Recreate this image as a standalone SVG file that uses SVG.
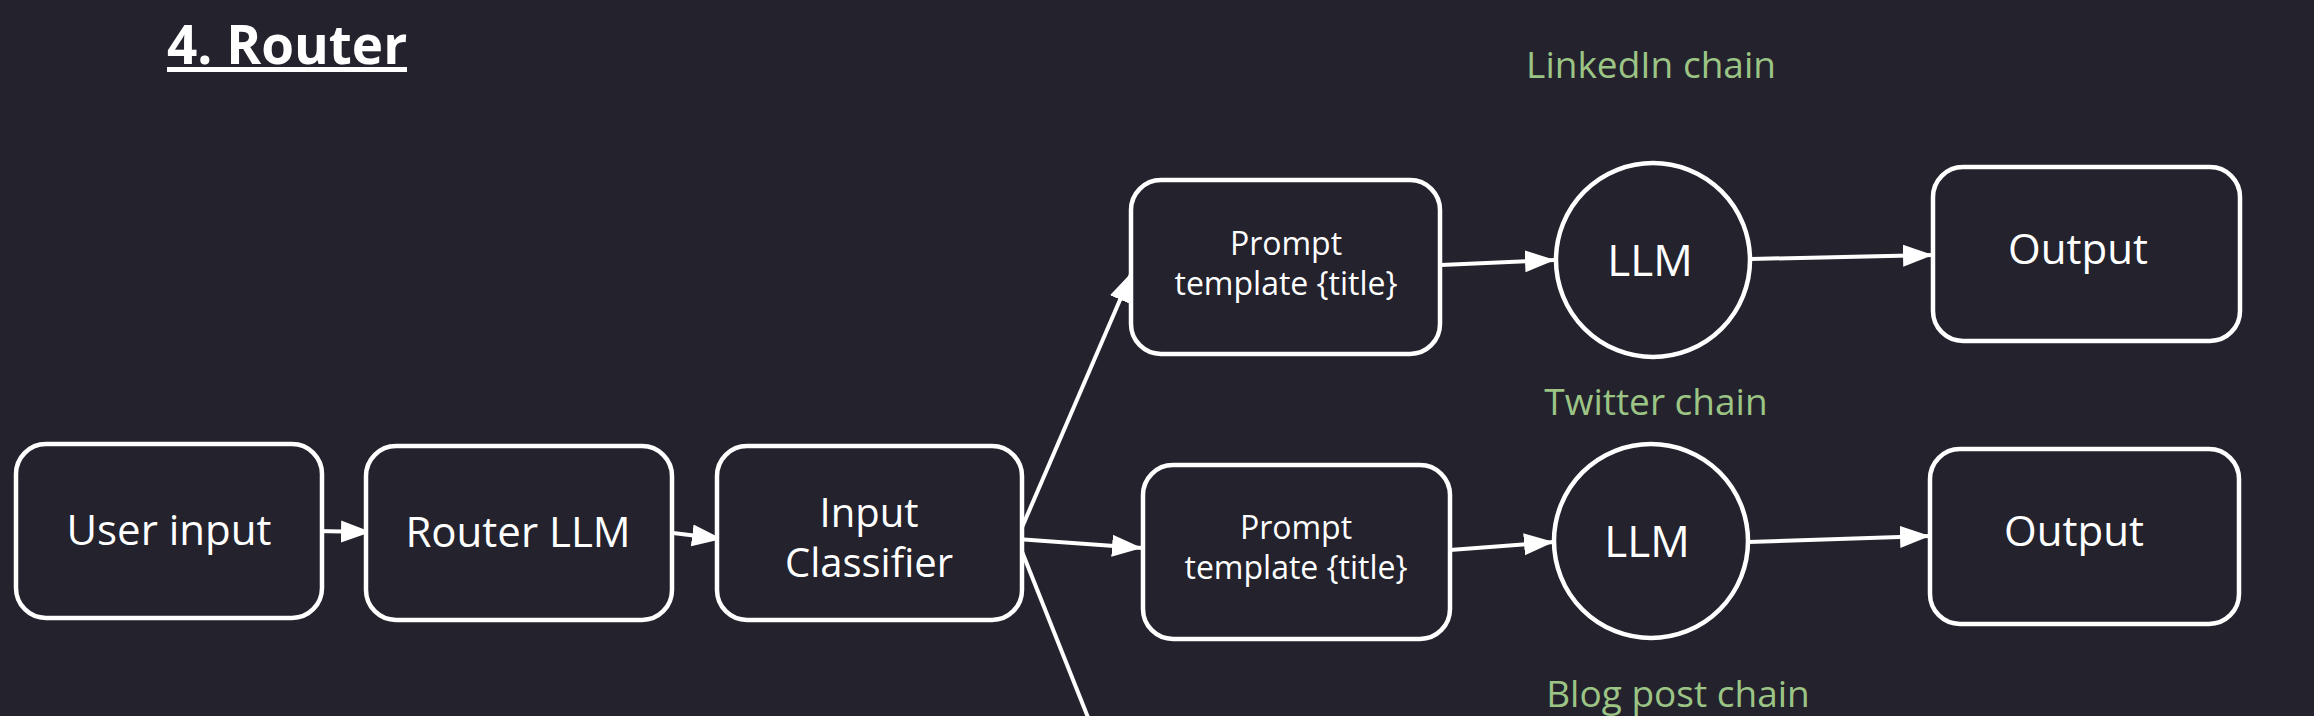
<svg xmlns="http://www.w3.org/2000/svg" width="2314" height="716" viewBox="0 0 2314 716">
  <defs>
    <marker id="arrow" markerUnits="userSpaceOnUse" markerWidth="32" markerHeight="24" refX="30" refY="12" orient="auto">
      <path d="M0,1 L30,12 L0,23 Z" fill="#ffffff"/>
    </marker>
    <style>
      .node { fill: #23222d; stroke: #ffffff; stroke-width: 4.5; }
      .lbl { font-family: "Open Sans", "Liberation Sans", sans-serif; fill: #ffffff; text-anchor: middle; }
      .big { font-size: 42px; }
      .two { font-size: 40px; }
      .llm { font-size: 44px; }
      .small { font-size: 32px; }
      .chain { font-family: "Open Sans", "Liberation Sans", sans-serif; font-size: 37px; fill: #9cc585; text-anchor: middle; }
      .edge { stroke: #ffffff; stroke-width: 4; fill: none; }
    </style>
  </defs>
  <rect x="0" y="0" width="2314" height="716" fill="#23222d"/>

  <g id="title">
    <text x="167" y="64" font-family="Open Sans, Liberation Sans, sans-serif" font-weight="bold" font-size="53" fill="#ffffff">4. Router</text>
    <rect x="167" y="67" width="240" height="5" fill="#ffffff"/>
  </g>

  <g id="chain-labels">
    <text class="chain" x="1651" y="78">LinkedIn chain</text>
    <text class="chain" x="1656" y="415">Twitter chain</text>
    <text class="chain" x="1678" y="707">Blog post chain</text>
  </g>

  <g id="connectors">
    <line class="edge" x1="315" y1="531" x2="371" y2="532" marker-end="url(#arrow)"/>
    <line class="edge" x1="665" y1="532" x2="722" y2="539" marker-end="url(#arrow)"/>
    <line class="edge" x1="1017" y1="539" x2="1132" y2="272" marker-end="url(#arrow)"/>
    <line class="edge" x1="1017" y1="539" x2="1142" y2="548" marker-end="url(#arrow)"/>
    <line class="edge" x1="1017" y1="539" x2="1093" y2="730"/>
    <line class="edge" x1="1441" y1="265" x2="1555" y2="260" marker-end="url(#arrow)"/>
    <line class="edge" x1="1751" y1="259" x2="1933" y2="255" marker-end="url(#arrow)"/>
    <line class="edge" x1="1450" y1="550" x2="1554" y2="542" marker-end="url(#arrow)"/>
    <line class="edge" x1="1748" y1="542" x2="1930" y2="536" marker-end="url(#arrow)"/>
  </g>

  <g id="user-input">
    <rect class="node" x="16" y="444" width="306" height="174" rx="30"/>
    <text class="lbl big" x="169" y="545">User input</text>
  </g>
  <g id="router-llm">
    <rect class="node" x="366" y="446" width="306" height="174" rx="30"/>
    <text class="lbl big" x="518" y="547">Router LLM</text>
  </g>
  <g id="input-classifier">
    <rect class="node" x="717" y="446" width="305" height="174" rx="30"/>
    <text class="lbl two" x="869" y="527">Input</text>
    <text class="lbl two" x="869" y="577">Classifier</text>
  </g>

  <g id="prompt-linkedin">
    <rect class="node" x="1131" y="180" width="309" height="174" rx="30"/>
    <text class="lbl small" x="1286" y="255">Prompt</text>
    <text class="lbl small" x="1286" y="295">template {title}</text>
  </g>
  <g id="llm-linkedin">
    <circle class="node" cx="1653" cy="260" r="97"/>
    <text class="lbl llm" x="1650" y="276">LLM</text>
  </g>
  <g id="output-linkedin">
    <rect class="node" x="1933" y="167" width="307" height="174" rx="30"/>
    <text class="lbl big" x="2078" y="264">Output</text>
  </g>

  <g id="prompt-twitter">
    <rect class="node" x="1143" y="465" width="307" height="174" rx="30"/>
    <text class="lbl small" x="1296" y="539">Prompt</text>
    <text class="lbl small" x="1296" y="579">template {title}</text>
  </g>
  <g id="llm-twitter">
    <circle class="node" cx="1651" cy="541" r="97"/>
    <text class="lbl llm" x="1647" y="557">LLM</text>
  </g>
  <g id="output-twitter">
    <rect class="node" x="1930" y="449" width="309" height="175" rx="30"/>
    <text class="lbl big" x="2074" y="546">Output</text>
  </g>
</svg>
